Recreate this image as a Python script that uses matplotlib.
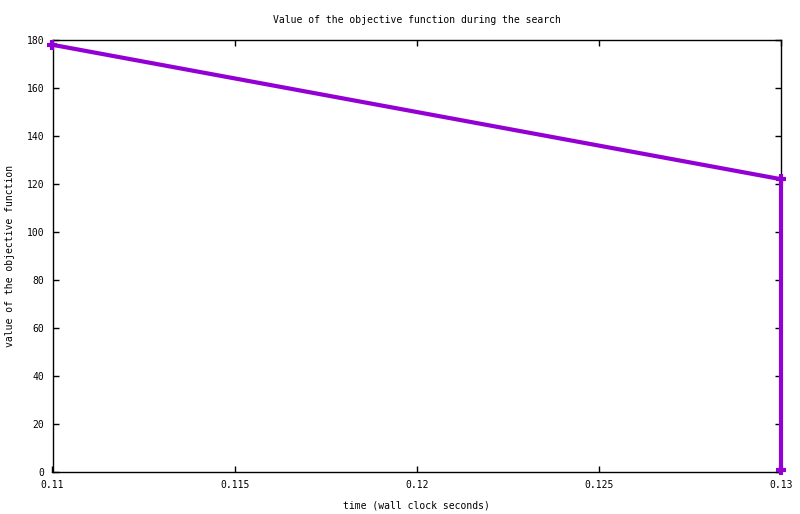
import matplotlib
matplotlib.use("Agg")
import matplotlib.pyplot as plt

# search trace: time (s) vs objective value
times = [0.11, 0.13, 0.13]
values = [178, 122, 1]

xticks = [0.11, 0.115, 0.12, 0.125, 0.13]
xtick_labels = ["0.11", "0.115", "0.12", "0.125", "0.13"]
yticks = [0, 20, 40, 60, 80, 100, 120, 140, 160, 180]

plt.rcParams['font.family'] = ['DejaVu Sans Mono']
plt.rcParams['font.size'] = 7

fig = plt.figure(figsize=(8.0, 5.14), dpi=100)
ax = fig.add_axes([52.5 / 800, 1 - 472 / 514, (781 - 52.5) / 800, (472 - 40) / 514])

ax.plot(times, values, color='#9400D3', linewidth=3, marker='+',
        markersize=7, markeredgewidth=3, clip_on=False, zorder=3)

ax.set_xlim(0.11, 0.13)
ax.set_ylim(0, 180)
ax.set_xticks(xticks)
ax.set_xticklabels(xtick_labels)
ax.set_yticks(yticks)
ax.tick_params(direction='in', length=4, width=1, top=True, right=True, pad=6)
for s in ax.spines.values():
    s.set_linewidth(1)

ax.set_title('Value of the objective function during the search', fontsize=7, pad=12)
ax.set_xlabel('time (wall clock seconds)', labelpad=7.5)
ax.set_ylabel('value of the objective function', labelpad=8)

fig.savefig('out.png', dpi=100)
